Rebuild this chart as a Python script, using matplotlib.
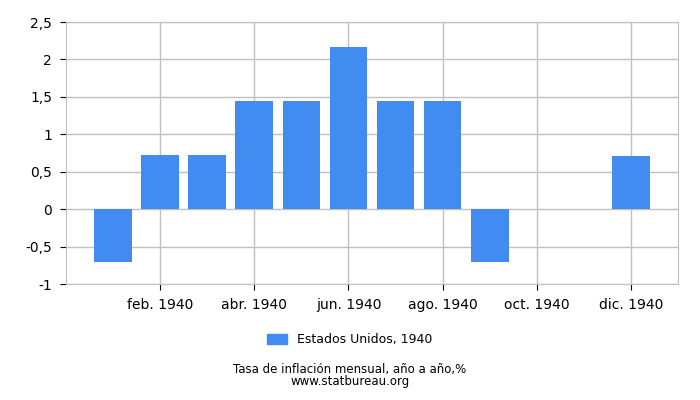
import matplotlib
matplotlib.use("Agg")
import matplotlib.pyplot as plt
from matplotlib.patches import Patch

months = list(range(1, 13))
values = [-0.71, 0.72, 0.72, 1.45, 1.45, 2.17, 1.45, 1.45, -0.71, 0.0, 0.0, 0.71]
tick_pos = [2, 4, 6, 8, 10, 12]
tick_labels = ["feb. 1940", "abr. 1940", "jun. 1940", "ago. 1940", "oct. 1940", "dic. 1940"]
y_ticks = [-1, -0.5, 0, 0.5, 1, 1.5, 2, 2.5]
y_labels = ["-1", "-0,5", "0", "0,5", "1", "1,5", "2", "2,5"]
series_name = "Estados Unidos, 1940"

bar_color = "#428bf0"
grid_color = "#c0c0c0"

fig = plt.figure(figsize=(7, 4), dpi=100)
ax = fig.add_axes([66 / 700, 116 / 400, 612 / 700, 262 / 400])

ax.bar(months, values, width=0.8, color=bar_color, zorder=3)

ax.set_xlim(0, 13)
ax.set_ylim(-1, 2.5)
ax.set_xticks(tick_pos)
ax.set_xticklabels(tick_labels, fontsize=10)
ax.set_yticks(y_ticks)
ax.set_yticklabels(y_labels, fontsize=10)
ax.grid(True, color=grid_color, linewidth=1, zorder=0)
ax.tick_params(direction="out", length=4, color="black", pad=6)

for side in ["top", "right", "left", "bottom"]:
    ax.spines[side].set_color(grid_color)

handle = Patch(color=bar_color)
fig.legend([handle], [series_name], loc="center", bbox_to_anchor=(0.5, 1 - 340 / 400),
           frameon=False, fontsize=9, handlelength=1.6, handleheight=0.8)

fig.text(0.5, 1 - 370 / 400, "Tasa de inflación mensual, año a año,%", ha="center", va="center", fontsize=8.5)
fig.text(0.5, 1 - 382 / 400, "www.statbureau.org", ha="center", va="center", fontsize=8.5)

fig.savefig("out.png", dpi=100)
